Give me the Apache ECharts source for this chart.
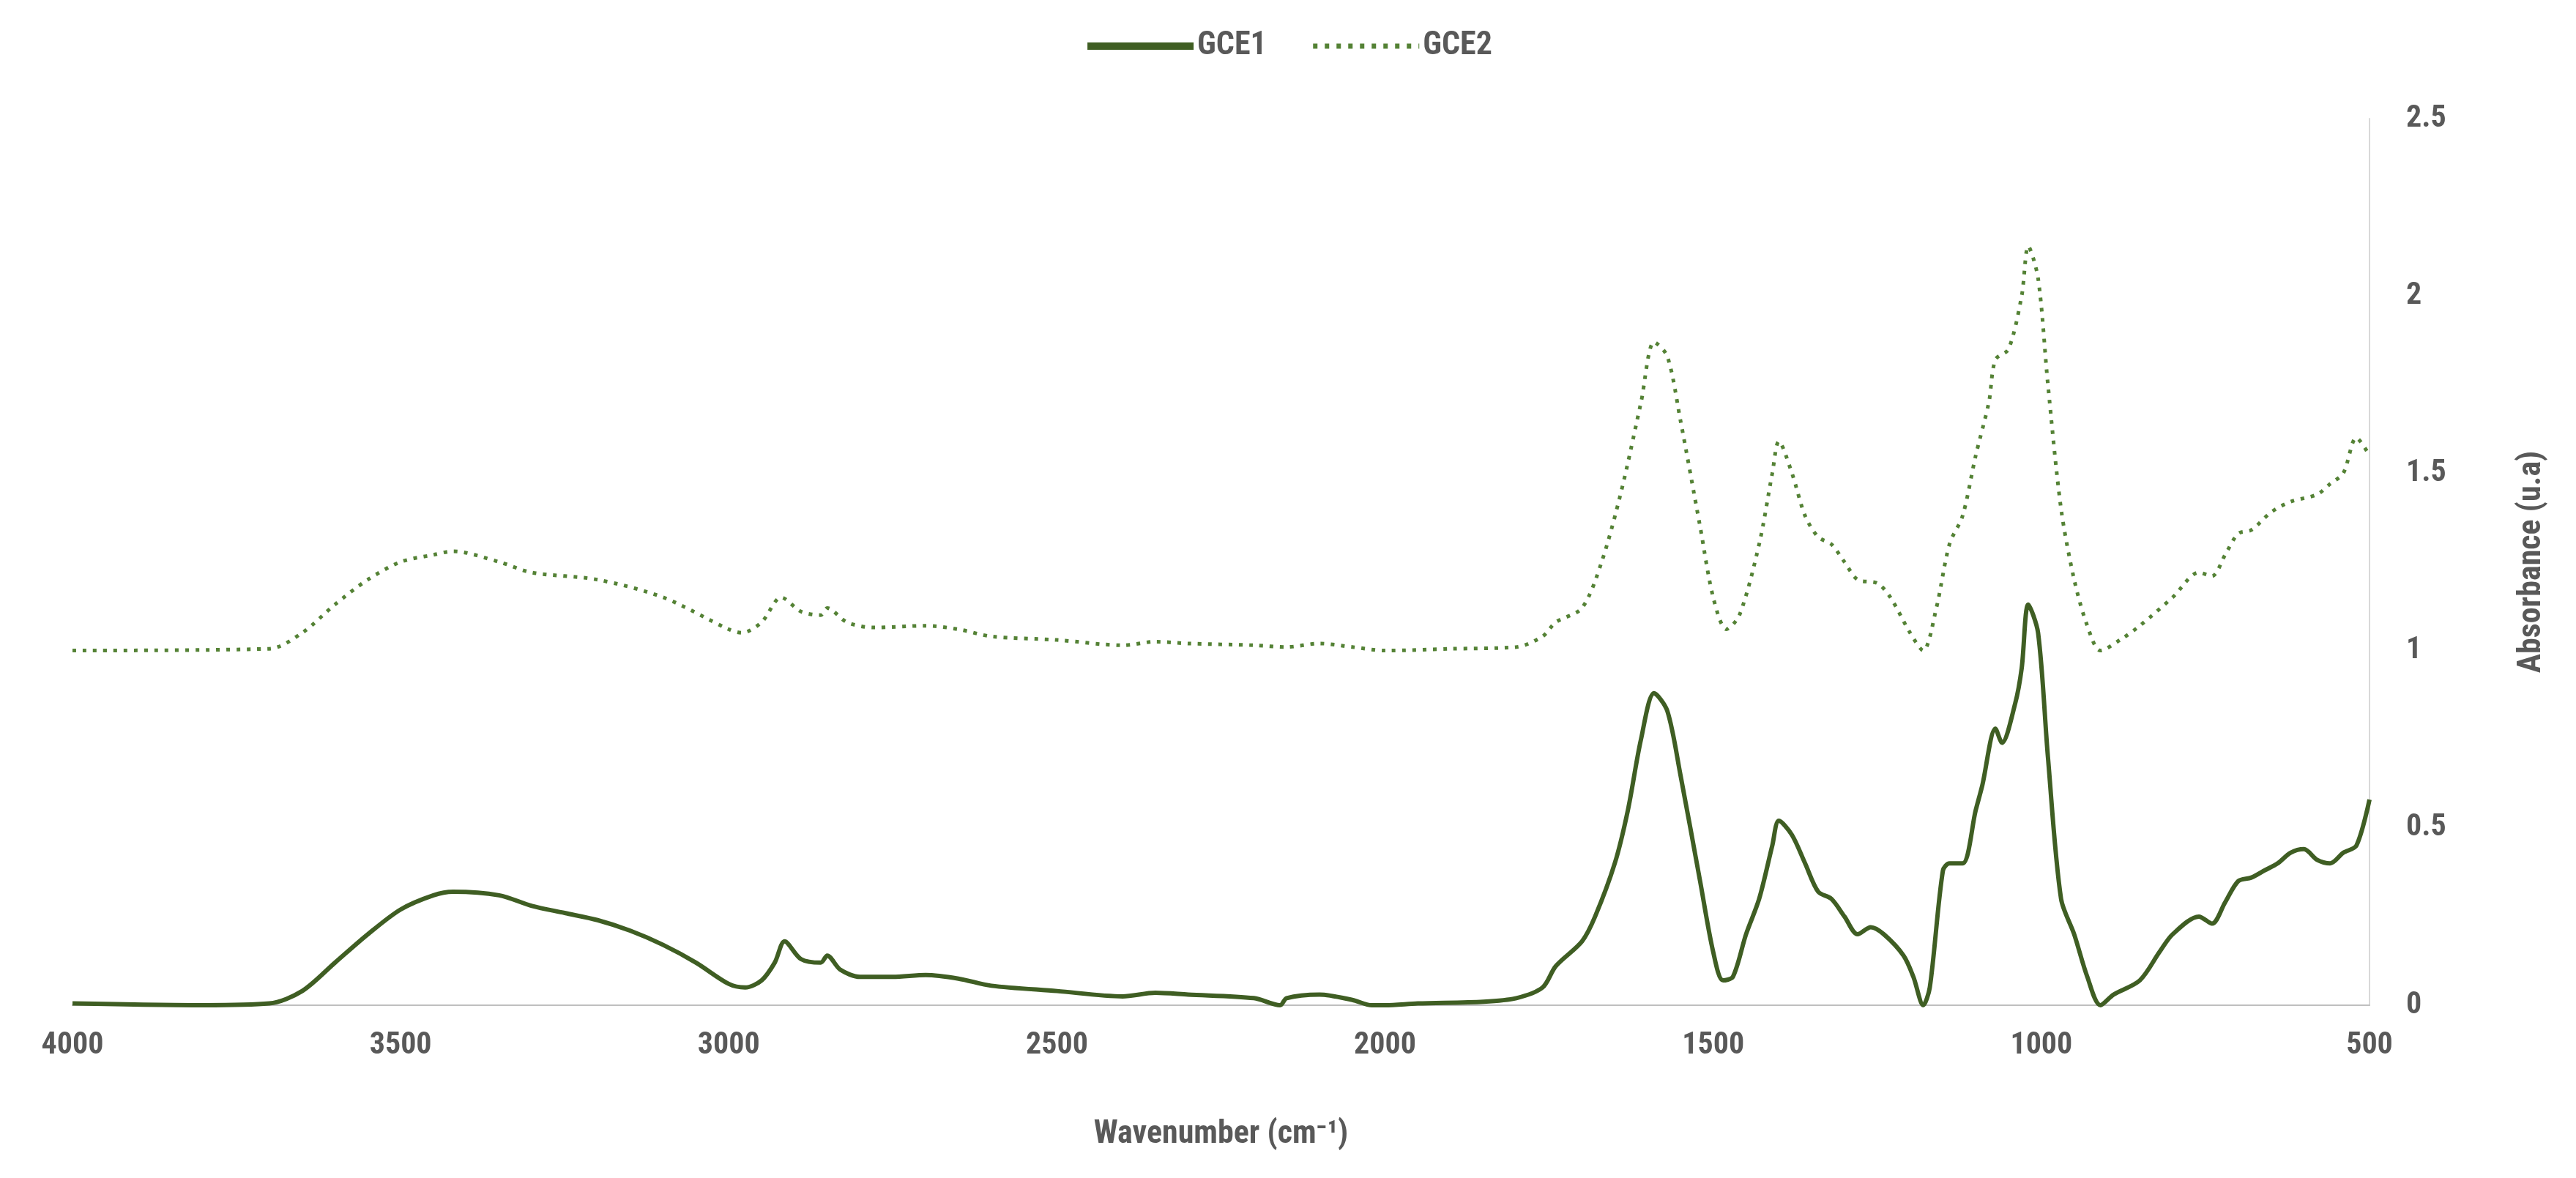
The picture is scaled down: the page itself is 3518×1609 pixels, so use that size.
<!DOCTYPE html>
<html><head><meta charset="utf-8">
<script src="https://cdn.jsdelivr.net/npm/echarts@6/dist/echarts.min.js"></script>
<style>html,body{margin:0;padding:0;background:#fff}#c{width:3518px;height:1609px}</style>
</head><body><div id="c"></div>
<script>
const gce1X=[4000,3800,3700,3650,3600,3550,3500,3450,3420,3350,3300,3250,3200,3150,3100,3050,3000,2975,2950,2930,2915,2890,2860,2850,2830,2800,2750,2700,2650,2600,2500,2400,2350,2300,2200,2160,2150,2100,2050,2020,2000,1950,1850,1800,1760,1740,1700,1680,1650,1630,1610,1590,1570,1550,1520,1500,1485,1470,1450,1430,1410,1400,1380,1360,1340,1320,1300,1280,1260,1240,1210,1195,1180,1170,1150,1140,1120,1100,1090,1070,1060,1040,1030,1020,1005,990,970,950,930,910,890,850,820,800,760,740,720,700,680,660,640,620,600,580,560,540,520,500];
const gce1Y=[0.005,0.0,0.005,0.04,0.12,0.2,0.27,0.31,0.32,0.31,0.28,0.26,0.24,0.21,0.17,0.12,0.06,0.05,0.07,0.12,0.18,0.13,0.12,0.14,0.1,0.08,0.08,0.085,0.075,0.055,0.04,0.025,0.035,0.03,0.02,0.0,0.02,0.03,0.015,0.0,0.0,0.005,0.01,0.02,0.05,0.11,0.18,0.25,0.4,0.55,0.75,0.88,0.83,0.65,0.35,0.15,0.07,0.08,0.2,0.3,0.45,0.52,0.48,0.4,0.32,0.3,0.25,0.2,0.22,0.2,0.14,0.08,0.0,0.05,0.38,0.4,0.4,0.55,0.62,0.78,0.74,0.85,0.95,1.13,1.05,0.7,0.3,0.2,0.08,0.0,0.03,0.07,0.15,0.2,0.25,0.23,0.29,0.35,0.36,0.38,0.4,0.43,0.44,0.41,0.4,0.43,0.45,0.58];
const gce2X=[4000,3700,3650,3600,3550,3500,3450,3420,3350,3300,3200,3100,3000,2980,2950,2920,2890,2860,2850,2820,2780,2700,2650,2600,2500,2400,2350,2300,2200,2150,2100,2050,2000,1900,1800,1760,1740,1700,1670,1640,1610,1590,1570,1550,1520,1500,1480,1460,1430,1410,1400,1380,1360,1340,1320,1300,1280,1250,1230,1200,1180,1160,1140,1120,1100,1080,1070,1050,1030,1020,1005,990,970,950,930,910,880,850,800,760,740,720,700,680,650,620,580,560,540,520,500];
const gce2Y=[1.0,1.005,1.05,1.13,1.2,1.25,1.27,1.28,1.25,1.22,1.2,1.15,1.06,1.05,1.08,1.15,1.11,1.1,1.12,1.08,1.065,1.07,1.06,1.04,1.03,1.015,1.025,1.02,1.015,1.01,1.02,1.01,1.0,1.005,1.01,1.04,1.08,1.12,1.25,1.45,1.7,1.87,1.83,1.65,1.35,1.15,1.06,1.1,1.3,1.5,1.59,1.5,1.38,1.32,1.3,1.25,1.2,1.19,1.15,1.05,1.0,1.12,1.3,1.38,1.55,1.7,1.82,1.85,2.0,2.14,2.05,1.75,1.4,1.2,1.07,1.0,1.03,1.07,1.15,1.22,1.21,1.27,1.33,1.34,1.39,1.42,1.44,1.47,1.5,1.6,1.55];
const xTicks=[4000,3500,3000,2500,2000,1500,1000,500];
const yTicks=[0,0.5,1,1.5,2,2.5];
const pair=(xs,ys)=>xs.map((x,i)=>[x,ys[i]]);
const F='"Liberation Sans Narrow","Roboto Condensed","Open Sans",sans-serif';
const chart=echarts.init(document.getElementById('c'));
chart.setOption({
  animation:false,
  legend:{top:36,left:'center',itemWidth:145,itemHeight:30,itemGap:60,
    itemStyle:{opacity:0},
    textStyle:{fontFamily:F,fontSize:44,fontWeight:'bold',color:'#595959'},
    data:[{name:'GCE1',lineStyle:{width:10,color:'#3f5e23'}},
          {name:'GCE2',lineStyle:{width:7,color:'#548235',type:[6,10]}}]},
  grid:{left:99,right:282,top:162,bottom:236,containLabel:false},
  xAxis:{type:'value',inverse:true,min:500,max:4000,interval:500,
    name:'Wavenumber (cm⁻¹)',nameLocation:'middle',nameGap:155,
    nameTextStyle:{fontFamily:F,fontSize:44,fontWeight:'bold',color:'#595959'},
    axisLine:{lineStyle:{color:'#bfbfbf',width:2}},axisTick:{show:false},splitLine:{show:false},
    axisLabel:{fontFamily:F,fontSize:42,fontWeight:'bold',color:'#595959',margin:34,
      formatter:v=>xTicks.includes(v)?String(v):''}},
  yAxis:{type:'value',position:'right',min:0,max:2.5,interval:0.5,
    name:'Absorbance (u.a)',nameLocation:'middle',nameGap:200,nameRotate:90,
    nameTextStyle:{fontFamily:F,fontSize:44,fontWeight:'bold',color:'#595959'},
    axisLine:{show:true,lineStyle:{color:'#d9d9d9',width:2}},axisTick:{show:false},splitLine:{show:false},
    axisLabel:{fontFamily:F,fontSize:42,fontWeight:'bold',color:'#595959',margin:50,
      formatter:v=>yTicks.includes(v)?String(v):''}},
  series:[
    {name:'GCE1',type:'line',smooth:0.3,showSymbol:false,symbol:'none',
     data:pair(gce1X,gce1Y),lineStyle:{color:'#3f5e23',width:6},itemStyle:{color:'#3f5e23'}},
    {name:'GCE2',type:'line',smooth:0.3,showSymbol:false,symbol:'none',
     data:pair(gce2X,gce2Y),lineStyle:{color:'#548235',width:5,type:[5,9]},itemStyle:{color:'#548235'}}
  ]
});
</script></body></html>
